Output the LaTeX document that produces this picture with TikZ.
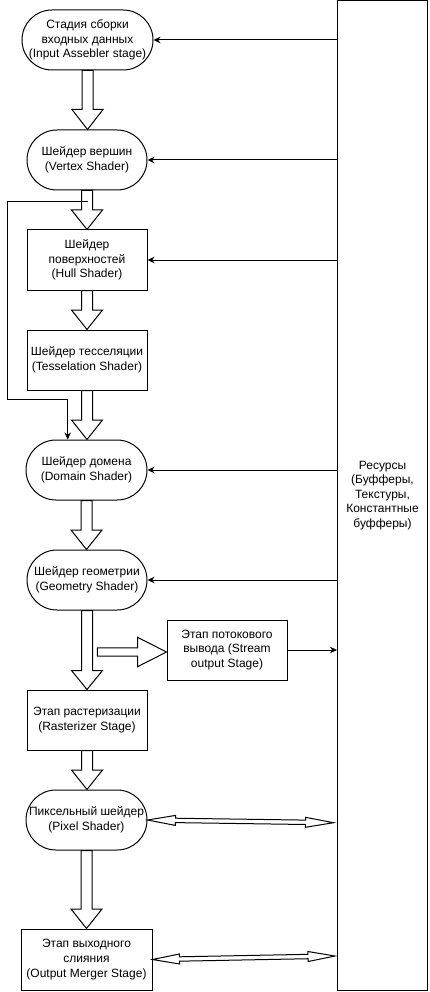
\documentclass[tikz,border=0pt]{standalone}
\usepackage{fontspec}
\setmainfont{Liberation Sans}
\usetikzlibrary{calc,arrows.meta}
\tikzset{
  lbl/.style={align=center, font=\fontsize{12}{14.6}\selectfont, inner sep=0pt},
  stad/.style={lbl, draw, line width=1pt, rounded corners=29.9pt, minimum height=60pt},
  box/.style={lbl, draw, line width=1pt, minimum height=60pt},
  blk/.style={draw, line width=1pt, fill=white, line join=miter},
  arr/.style={line width=1pt, -{Stealth[length=7pt,width=6.5pt]}},
}
% single block arrow: from, to, shaft half width, head half width, head length
\newcommand{\BlkArrow}[5]{%
  \draw[blk] let \p1=(#1), \p2=(#2),
      \n1={atan2(\y2-\y1,\x2-\x1)}, \n2={veclen(\x2-\x1,\y2-\y1)} in
    [shift={(\p1)}, rotate=\n1]
    (0pt,-#3pt) -- ({(\n2-#5)*1pt},-#3pt) -- ({(\n2-#5)*1pt},-#4pt)
    -- ({\n2*1pt},0pt) -- ({(\n2-#5)*1pt},#4pt) -- ({(\n2-#5)*1pt},#3pt)
    -- (0pt,#3pt) -- cycle;}
% double block arrow
\newcommand{\DblArrow}[5]{%
  \draw[blk] let \p1=(#1), \p2=(#2),
      \n1={atan2(\y2-\y1,\x2-\x1)}, \n2={veclen(\x2-\x1,\y2-\y1)} in
    [shift={(\p1)}, rotate=\n1]
    (0pt,0pt) -- (#5pt,#4pt) -- (#5pt,#3pt) -- ({(\n2-#5)*1pt},#3pt)
    -- ({(\n2-#5)*1pt},#4pt) -- ({\n2*1pt},0pt) -- ({(\n2-#5)*1pt},-#4pt)
    -- ({(\n2-#5)*1pt},-#3pt) -- (#5pt,-#3pt) -- (#5pt,-#4pt) -- cycle;}
\begin{document}
\begin{tikzpicture}[x=1pt,y=-1pt]
\useasboundingbox[fill=white] (0,0) rectangle (429,992);
% nodes
\node[stad, minimum width=131pt] (ia) at (87.5,40) {Стадия сборки\\входных данных\\(Input Assebler stage)};
\node[stad, minimum width=120pt] (vs) at (87,160) {Шейдер вершин\\(Vertex Shader)};
\node[box, minimum width=120pt] (hs) at (87,260) {Шейдер\\поверхностей\\(Hull Shader)};
\node[box, minimum width=120pt] (ts) at (87,360) {Шейдер тесселяции\\(Tesselation Shader)};
\node[stad, minimum width=121pt] (ds) at (86.5,470) {Шейдер домена\\(Domain Shader)};
\node[stad, minimum width=120pt] (gs) at (87,580) {Шейдер геометрии\\(Geometry Shader)};
\node[box, minimum width=120pt] (so) at (227,650) {Этап потокового\\вывода (Stream\\output Stage)};
\node[box, minimum width=120pt] (rs) at (87,720) {Этап растеризации\\(Rasterizer Stage)};
\node[stad, minimum width=121pt] (ps) at (86.5,820) {Пиксельный шейдер\\(Pixel Shader)};
\node[box, minimum width=131pt, minimum height=61pt] (om) at (86.5,959.5) {Этап выходного\\слияния\\(Output Merger Stage)};
\node[box, minimum width=90pt, minimum height=989pt] (res) at (382.5,495.5) {Ресурсы\\(Буфферы,\\Текстуры,\\Константные\\буфферы)};
% block arrows
\BlkArrow{ia.south}{ia.south |- vs.north}{5.5}{15.5}{20}
\BlkArrow{vs.south}{vs.south |- hs.north}{5.5}{15.5}{19.5}
\BlkArrow{hs.south}{hs.south |- ts.north}{5.5}{15.5}{19.5}
\BlkArrow{ts.south}{ts.south |- ds.north}{5.5}{15.5}{19.5}
\BlkArrow{ds.south}{ds.south |- gs.north}{5.5}{15.5}{19.5}
\BlkArrow{gs.south}{gs.south |- rs.north}{5.5}{15.5}{19}
\BlkArrow{rs.south}{rs.south |- ps.north}{5.5}{15.5}{19.5}
\BlkArrow{ps.south}{ps.south |- om.north}{5.5}{15.5}{19.5}
\coordinate (hs0) at (97.3,652);
\BlkArrow{hs0}{so.west |- hs0}{4.2}{14.7}{29}
% resource arrows
\draw[arr] (res.west |- ia.east) -- (ia.east);
\draw[arr] (res.west |- vs.east) -- (vs.east);
\draw[arr] (res.west |- hs.east) -- (hs.east);
\draw[arr] (res.west |- ds.east) -- (ds.east);
\draw[arr] (res.west |- gs.east) -- (gs.east);
\draw[arr] (so.east) -- (res.west |- so.east);
% feedback line
\coordinate (fb) at ($(vs.south)+(0.7,10.7)$);
\coordinate (fe) at ($(ds.north)+(-18.8,0)$);
\draw[arr] (fb) -- ++(-80.4,0) |- ($(fe)+(0,-40)$) -- (fe);
% double arrows
\coordinate (pe) at (333.5,822.7);
\DblArrow{ps.east}{pe}{2.2}{5}{28}
\coordinate (oe) at (335,956);
\DblArrow{om.east}{oe}{2.2}{5}{27}
\end{tikzpicture}
\end{document}
